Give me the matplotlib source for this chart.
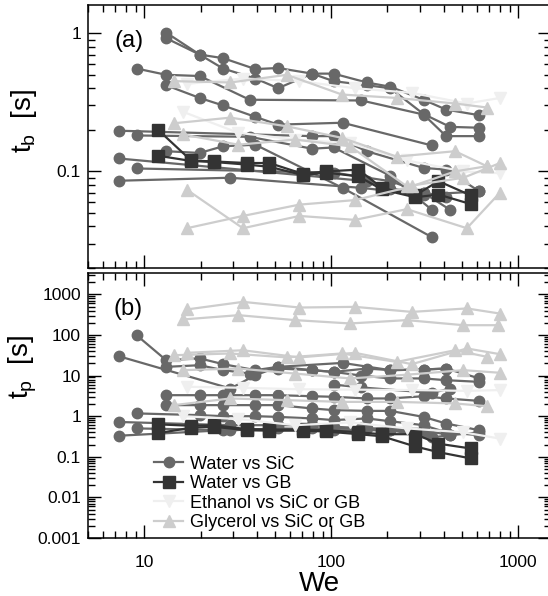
import matplotlib
matplotlib.use('Agg')
import matplotlib.pyplot as plt
from matplotlib.ticker import LogLocator, FuncFormatter, NullFormatter

plt.rcParams['font.family'] = ['Liberation Sans', 'DejaVu Sans']
plt.rcParams['mathtext.fontset'] = 'custom'
plt.rcParams['mathtext.rm'] = 'Liberation Sans'

# ---- data: (We list, value list) per run ----
# panel (a): breakup time t_b [s]
sic_tb = [
    ([13.1, 19.8, 26.4, 39.3, 52, 79, 103, 155, 207, 312, 412, 621],
     [1.01, 0.70, 0.66, 0.55, 0.56, 0.51, 0.51, 0.44, 0.41, 0.33, 0.28, 0.255]),
    ([13.1, 19.8, 26.4, 39.3, 52, 79, 103, 155, 207, 312, 433, 621],
     [0.92, 0.70, 0.555, 0.47, 0.40, 0.51, 0.45, 0.42, 0.40, 0.26, 0.21, 0.207]),
    ([9.1, 13.1, 19.8, 36.6, 145, 312, 412, 621],
     [0.555, 0.50, 0.49, 0.33, 0.326, 0.258, 0.18, 0.18]),
    ([13.1, 19.8, 26.4, 39.3, 52, 115, 346],
     [0.42, 0.34, 0.30, 0.248, 0.218, 0.225, 0.154]),
    ([7.3, 79, 103, 155, 312, 412, 621],
     [0.197, 0.18, 0.18, 0.14, 0.106, 0.103, 0.0716]),
    ([9.1, 36.6, 79, 103, 207, 346],
     [0.182, 0.178, 0.146, 0.149, 0.093, 0.0527]),
    ([13.1, 19.8, 26.4, 39.3, 115, 346],
     [0.14, 0.136, 0.152, 0.156, 0.076, 0.0334]),
    ([7.3, 155, 207, 312, 412],
     [0.124, 0.085, 0.075, 0.070, 0.065]),
    ([9.1, 103, 207, 312, 433],
     [0.105, 0.098, 0.085, 0.07, 0.0527]),
    ([7.3, 28.9, 145, 312, 621],
     [0.0856, 0.090, 0.076, 0.068, 0.0716]),
]
gb_tb = [
    ([11.8, 17.8, 23.5, 35.4, 46.7, 70.6, 94, 140, 187, 281, 375, 559],
     [0.201, 0.120, 0.118, 0.115, 0.115, 0.096, 0.100, 0.103, 0.076, 0.067, 0.085, 0.067]),
    ([11.8, 17.8, 23.5, 35.4, 46.7, 70.6, 94, 140, 187, 281, 375, 559],
     [0.130, 0.119, 0.117, 0.112, 0.108, 0.094, 0.098, 0.092, 0.074, 0.065, 0.068, 0.058]),
]
eth_tb = [
    ([16.9, 33.7, 67.6, 134, 270, 532, 801], [0.43, 0.47, 0.45, 0.40, 0.37, 0.31, 0.34]),
    ([16.1, 31.9, 64.1, 126, 254, 510, 801], [0.27, 0.19, 0.17, 0.16, 0.12, 0.10, 0.097]),
]
gly_tb = [
    ([14.4, 28.9, 57.9, 114, 224, 460, 681], [0.45, 0.44, 0.50, 0.36, 0.34, 0.31, 0.29]),
    ([14.4, 28.9, 57.9, 114, 224, 460, 681], [0.223, 0.245, 0.212, 0.175, 0.128, 0.14, 0.109]),
    ([16.1, 31.9, 64.1, 126, 254, 510, 801], [0.185, 0.156, 0.17, 0.152, 0.078, 0.09, 0.115]),
    ([16.9, 33.7, 67.6, 134, 254, 532, 801], [0.0737, 0.0388, 0.0476, 0.0446, 0.0533, 0.0388, 0.0703]),
    ([16.9, 33.7, 67.6, 134, 270, 460, 681], [0.0388, 0.0476, 0.0575, 0.062, 0.078, 0.10, 0.109]),
]

# panel (b): penetration time t_p [s]
sic_tp = [
    ([9.1, 13.1, 19.8, 26.4, 39.3, 52, 79, 103, 155, 207, 312, 412, 621],
     [98.5, 23.9, 26.5, 19.1, 13.6, 16.4, 13.6, 12.3, 14.9, 13.6, 14.1, 14.9, 8.5]),
    ([13.1, 19.8, 26.4, 36.6, 52, 79, 103, 145, 207, 312, 412, 621],
     [16.4, 18.0, 13.6, 11.2, 14.9, 13.6, 12.3, 10.0, 8.5, 8.5, 7.7, 7.0]),
    ([7.3, 28.9, 39.3, 52, 115, 207, 312, 412],
     [30, 4.8, 10.2, 16.4, 20.5, 13.6, 14.1, 14.9]),
    ([13.1, 19.8, 26.4, 39.3, 52, 79, 103, 155, 207, 312, 412, 621],
     [3.29, 3.29, 3.29, 3.29, 3.29, 3.1, 3.0, 2.73, 2.73, 3.1, 2.73, 2.38]),
    ([13.1, 19.8, 26.4, 39.3, 52, 79, 103, 155, 207, 312, 412, 621],
     [1.87, 1.87, 1.87, 1.87, 1.87, 1.55, 1.41, 1.35, 1.35, 0.96, 0.66, 0.45]),
    ([9.1, 19.8, 26.4, 39.3, 52, 79, 103, 155, 207, 312, 412, 621],
     [1.17, 1.06, 1.0, 1.0, 0.96, 0.88, 0.80, 0.88, 0.75, 0.60, 0.40, 0.34]),
    ([7.3, 28.9, 52, 79, 103, 155, 207, 312, 433, 621],
     [0.72, 0.60, 0.60, 0.60, 0.55, 0.50, 0.50, 0.45, 0.34, 0.40]),
    ([9.1, 28.9, 52, 103, 207, 312],
     [0.50, 0.45, 0.50, 0.45, 0.45, 0.40]),
    ([7.3, 26.4, 79, 145, 207, 346, 433],
     [0.33, 0.45, 0.50, 0.50, 0.45, 0.30, 0.34]),
    ([103, 145, 346, 433],
     [6.0, 5.1, 3.75, 4.8]),
]
gb_tp = [
    ([11.8, 17.8, 23.5, 35.4, 46.7, 70.6, 94, 140, 187, 281, 375, 559],
     [0.63, 0.58, 0.60, 0.48, 0.47, 0.47, 0.45, 0.40, 0.36, 0.36, 0.21, 0.16]),
    ([11.8, 17.8, 23.5, 35.4, 46.7, 70.6, 94, 140, 187, 281, 375, 559],
     [0.38, 0.52, 0.55, 0.45, 0.44, 0.44, 0.42, 0.36, 0.32, 0.18, 0.13, 0.091]),
]
eth_tp = [
    ([16.9, 33.7, 67.6, 134, 270, 532, 801], [5.3, 5.0, 4.6, 4.5, 4.4, 4.2, 4.4]),
    ([16.1, 31.9, 64.1, 126, 254, 510, 801], [1.0, 0.85, 0.60, 0.70, 0.50, 0.40, 0.28]),
]
gly_tp = [
    ([16.9, 33.7, 67.6, 134, 270, 532, 801], [425, 653, 474, 492, 370, 450, 336]),
    ([16.1, 31.9, 64.1, 126, 254, 510, 781], [241, 307, 232, 192, 232, 174, 174]),
    ([14.4, 28.9, 57.9, 114, 224, 460, 681], [31.7, 35, 28, 35, 21.7, 42, 29]),
    ([16.9, 33.7, 67.6, 134, 270, 532, 801], [36.3, 42, 28, 36.3, 19.1, 46.5, 33.6]),
    ([16.1, 31.9, 64.1, 126, 254, 510, 801], [13.6, 14.9, 11.2, 8.5, 10.5, 13.6, 11.7]),
    ([14.4, 28.9, 57.9, 114, 224, 460, 681], [1.87, 2.73, 2.48, 2.25, 2.25, 2.06, 1.76]),
]

labels = ['Water vs SiC', 'Water vs GB', 'Ethanol vs SiC or GB', 'Glycerol vs SiC or GB']
styles = [dict(color='#686868', marker='o', ms=7.5),
          dict(color='#333333', marker='s', ms=8),
          dict(color='#efefef', marker='v', ms=8),
          dict(color='#cdcdcd', marker='^', ms=8)]

fig = plt.figure(figsize=(5.48, 5.96), dpi=100)
ax1 = fig.add_axes([88/548, 1-268/596, 463/548, 263/596])
ax2 = fig.add_axes([88/548, 1-538/596, 463/548, 264.7/596])

def draw(ax, groups):
    hs = []
    for grp, st, lab in zip(groups, styles, labels):
        h = None
        for we, v in grp:
            h, = ax.plot(we, v, lw=1.6, mec=st['color'], label=lab, **st)
        hs.append(h)
    return hs

draw(ax1, [sic_tb, gb_tb, eth_tb, gly_tb])
hs = draw(ax2, [sic_tp, gb_tp, eth_tp, gly_tp])

fmt = FuncFormatter(lambda v, p: '%g' % v)
for ax in (ax1, ax2):
    ax.set_xscale('log')
    ax.set_yscale('log')
    ax.set_xlim(5, 1500)
    ax.tick_params(which='both', direction='in', top=True, right=True, labelsize=12.5, width=1.0)
    ax.tick_params(which='major', length=9.5, pad=5)
    ax.tick_params(which='minor', length=5)
    ax.tick_params(axis='x', pad=12.5)
    ax.yaxis.set_major_formatter(fmt)
    ax.xaxis.set_major_formatter(fmt)
    ax.yaxis.set_minor_formatter(NullFormatter())
    ax.xaxis.set_minor_formatter(NullFormatter())
    ax.yaxis.set_minor_locator(LogLocator(base=10, subs=range(2, 10), numticks=20))
    for s in ax.spines.values():
        s.set_linewidth(1.1)

ax1.set_ylim(0.02, 1.6)
ax1.tick_params(axis='x', labelbottom=False)
ax2.set_ylim(0.001, 3300)
ax2.yaxis.set_major_locator(LogLocator(base=10, numticks=20))

ax1.set_ylabel(r'$\mathrm{t_b}$  [s]', fontsize=20)
ax1.yaxis.set_label_coords(-0.106, 0.559)
ax2.set_ylabel(r'$\mathrm{t_p}$  [s]', fontsize=20)
ax2.yaxis.set_label_coords(-0.106, 0.646)
ax2.set_xlabel('We', fontsize=20, labelpad=0.5)

ax1.text(0.058, 0.863, '(a)', transform=ax1.transAxes, fontsize=17, va='center')
ax2.text(0.054, 0.867, '(b)', transform=ax2.transAxes, fontsize=17, va='center')

ax2.legend(handles=hs, loc='upper left', bbox_to_anchor=(0.143, 0.311), frameon=False,
           fontsize=13, numpoints=1, handlelength=1.6, handletextpad=0.4,
           labelspacing=0.14, borderpad=0, borderaxespad=0)

fig.savefig('out.png', dpi=100)
